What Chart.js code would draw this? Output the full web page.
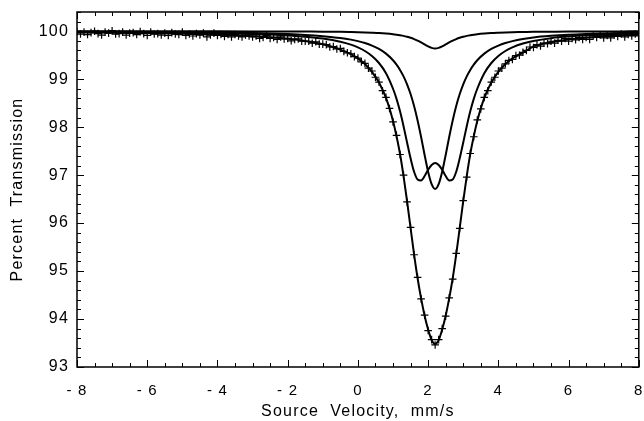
<!DOCTYPE html>
<html>
<head>
<meta charset="utf-8">
<script src="https://cdn.jsdelivr.net/npm/chart.js@4.4.1/dist/chart.umd.min.js"></script>
<style>
  html, body { margin: 0; padding: 0; background: #fff; }
  #wrap { width: 644px; height: 421px; }
</style>
</head>
<body>
<div id="wrap"><canvas id="spectrum"></canvas></div>
<script>
// measured spectrum (channels, mm/s) and percent transmission
const velocity = [
  -8.0, -7.9, -7.8, -7.7, -7.6, -7.5, -7.4, -7.3, -7.2, -7.1,
  -7.0, -6.9, -6.8, -6.7, -6.6, -6.5, -6.4, -6.3, -6.2, -6.1,
  -6.0, -5.9, -5.8, -5.7, -5.6, -5.5, -5.4, -5.3, -5.2, -5.1,
  -5.0, -4.9, -4.8, -4.7, -4.6, -4.5, -4.4, -4.3, -4.2, -4.1,
  -4.0, -3.9, -3.8, -3.7, -3.6, -3.5, -3.4, -3.3, -3.2, -3.1,
  -3.0, -2.9, -2.8, -2.7, -2.6, -2.5, -2.4, -2.3, -2.2, -2.1,
  -2.0, -1.9, -1.8, -1.7, -1.6, -1.5, -1.4, -1.3, -1.2, -1.1,
  -1.0, -0.9, -0.8, -0.7, -0.6, -0.5, -0.4, -0.3, -0.2, -0.1,
  0.0, 0.1, 0.2, 0.3, 0.4, 0.5, 0.6, 0.7, 0.8, 0.9,
  1.0, 1.1, 1.2, 1.3, 1.4, 1.5, 1.6, 1.7, 1.8, 1.9,
  2.0, 2.1, 2.2, 2.3, 2.4, 2.5, 2.6, 2.7, 2.8, 2.9,
  3.0, 3.1, 3.2, 3.3, 3.4, 3.5, 3.6, 3.7, 3.8, 3.9,
  4.0, 4.1, 4.2, 4.3, 4.4, 4.5, 4.6, 4.7, 4.8, 4.9,
  5.0, 5.1, 5.2, 5.3, 5.4, 5.5, 5.6, 5.7, 5.8, 5.9,
  6.0, 6.1, 6.2, 6.3, 6.4, 6.5, 6.6, 6.7, 6.8, 6.9,
  7.0, 7.1, 7.2, 7.3, 7.4, 7.5, 7.6, 7.7, 7.8, 7.9,
  8.0
];
const transmission = [
  99.99, 99.94, 99.98, 99.93, 99.97, 100.00, 99.95, 99.92, 99.98, 99.96,
  100.01, 99.94, 99.95, 99.98, 99.92, 99.96, 99.97, 99.93, 99.99, 99.95,
  99.91, 99.98, 99.94, 99.95, 99.92, 99.96, 99.91, 99.97, 99.94, 99.93,
  99.98, 99.91, 99.94, 99.90, 99.95, 99.92, 99.96, 99.88, 99.92, 99.96,
  99.91, 99.93, 99.89, 99.93, 99.88, 99.93, 99.90, 99.88, 99.92, 99.90,
  99.88, 99.90, 99.85, 99.87, 99.91, 99.85, 99.87, 99.83, 99.88, 99.84,
  99.85, 99.80, 99.83, 99.84, 99.79, 99.79, 99.79, 99.75, 99.78, 99.73,
  99.73, 99.72, 99.67, 99.68, 99.63, 99.64, 99.58, 99.55, 99.53, 99.47,
  99.44, 99.36, 99.33, 99.23, 99.17, 99.04, 98.94, 98.76, 98.62, 98.39,
  98.11, 97.83, 97.43, 97.00, 96.44, 95.91, 95.34, 94.87, 94.42, 94.08,
  93.76, 93.57, 93.46, 93.57, 93.80, 94.06, 94.44, 94.83, 95.37, 95.89,
  96.47, 96.96, 97.45, 97.80, 98.15, 98.38, 98.62, 98.76, 98.94, 99.04,
  99.17, 99.23, 99.32, 99.39, 99.41, 99.49, 99.50, 99.56, 99.60, 99.67,
  99.66, 99.72, 99.69, 99.75, 99.74, 99.79, 99.75, 99.81, 99.79, 99.85,
  99.79, 99.85, 99.82, 99.87, 99.83, 99.87, 99.83, 99.90, 99.87, 99.92,
  99.86, 99.91, 99.86, 99.92, 99.89, 99.94, 99.88, 99.93, 99.90, 99.94,
  99.90
];

// fitted curves
const fitVelocity = [
  -8, -7, -6, -5, -4, -3, -2.5, -2, -1.5, -1,
  -0.5, -0.2, 0, 0.2, 0.4, 0.6, 0.8, 1.0, 1.1, 1.2,
  1.3, 1.4, 1.5, 1.6, 1.7, 1.8, 1.9, 2.0, 2.1, 2.2,
  2.3, 2.4, 2.5, 2.6, 2.7, 2.8, 2.9, 3.0, 3.1, 3.2,
  3.3, 3.4, 3.6, 3.8, 4.0, 4.2, 4.4, 4.7, 5.0, 5.5,
  6.0, 6.5, 7.0, 7.5, 8.0
];
const fitTotal = [
  99.973, 99.967, 99.958, 99.946, 99.927, 99.896, 99.873, 99.841, 99.795, 99.727,
  99.616, 99.52, 99.434, 99.315, 99.152, 98.93, 98.61, 98.13, 97.81, 97.44,
  96.98, 96.46, 95.90, 95.35, 94.85, 94.43, 94.07, 93.78, 93.56, 93.48,
  93.56, 93.78, 94.07, 94.43, 94.85, 95.35, 95.90, 96.46, 96.98, 97.44,
  97.81, 98.13, 98.61, 98.93, 99.152, 99.315, 99.434, 99.552, 99.681, 99.77,
  99.827, 99.865, 99.891, 99.911, 99.926
];
const fitDoublet = [
  99.985, 99.982, 99.977, 99.971, 99.960, 99.943, 99.930, 99.912, 99.886, 99.846,
  99.780, 99.719, 99.662, 99.587, 99.483, 99.337, 99.124, 98.800, 98.590, 98.330,
  98.020, 97.680, 97.350, 97.070, 96.910, 96.890, 96.980, 97.110, 97.210, 97.250,
  97.210, 97.110, 96.980, 96.890, 96.910, 97.070, 97.350, 97.680, 98.020, 98.330,
  98.590, 98.800, 99.124, 99.337, 99.483, 99.587, 99.662, 99.742, 99.796, 99.855,
  99.892, 99.916, 99.933, 99.945, 99.954
];
const fitSinglet = [
  99.990, 99.987, 99.984, 99.979, 99.972, 99.961, 99.952, 99.940, 99.923, 99.897,
  99.859, 99.824, 99.793, 99.753, 99.700, 99.630, 99.532, 99.394, 99.303, 99.193,
  99.058, 98.892, 98.690, 98.440, 98.140, 97.795, 97.420, 97.070, 96.810, 96.710,
  96.810, 97.070, 97.420, 97.795, 98.140, 98.440, 98.690, 98.892, 99.058, 99.193,
  99.303, 99.394, 99.532, 99.630, 99.700, 99.753, 99.793, 99.837, 99.869, 99.903,
  99.927, 99.943, 99.954, 99.962, 99.968
];
const fitWeakSinglet = [
  99.999, 99.999, 99.998, 99.998, 99.997, 99.996, 99.995, 99.994, 99.992, 99.990,
  99.986, 99.982, 99.979, 99.975, 99.969, 99.962, 99.952, 99.938, 99.928, 99.916,
  99.902, 99.884, 99.863, 99.836, 99.803, 99.765, 99.723, 99.682, 99.652, 99.640,
  99.652, 99.682, 99.723, 99.765, 99.803, 99.836, 99.863, 99.884, 99.902, 99.916,
  99.928, 99.938, 99.952, 99.962, 99.969, 99.975, 99.979, 99.983, 99.987, 99.990,
  99.993, 99.994, 99.995, 99.996, 99.997
];

const FONT = '"Liberation Sans", Arial, Helvetica, sans-serif';

function pts(xs, ys) {
  return xs.map((v, i) => ({ x: v, y: ys[i] }));
}

function fitLine(ys) {
  return {
    type: 'line',
    data: pts(fitVelocity, ys),
    borderColor: '#000',
    borderWidth: 2,
    pointRadius: 0,
    fill: false,
    cubicInterpolationMode: 'monotone',
  };
}

// the old plot has loosely spaced lettering
const spacedText = {
  id: 'spacedText',
  beforeLayout(chart) { chart.ctx.letterSpacing = '1.2px'; },
  beforeDraw(chart) { chart.ctx.letterSpacing = '1.2px'; },
};

// frame on all four sides with inward tick marks
const frameTicks = {
  id: 'frameTicks',
  afterDraw(chart) {
    const { ctx, chartArea: a, scales: { x, y } } = chart;
    ctx.save();
    ctx.strokeStyle = '#000';
    ctx.lineWidth = 1.5;
    ctx.strokeRect(a.left, a.top, a.right - a.left, a.bottom - a.top);
    ctx.lineWidth = 1;
    ctx.beginPath();
    for (let i = 0; i <= 32; i++) {
      const px = Math.round(x.getPixelForValue(-8 + i * 0.5)) + 0.5;
      const len = i % 4 === 0 ? 7 : 4;
      ctx.moveTo(px, a.bottom); ctx.lineTo(px, a.bottom - len);
      ctx.moveTo(px, a.top); ctx.lineTo(px, a.top + len);
    }
    for (let i = 0; i <= 37; i++) {
      const py = Math.round(y.getPixelForValue(93 + i * 0.2)) + 0.5;
      const len = i % 5 === 0 ? 7 : 4;
      ctx.moveTo(a.left, py); ctx.lineTo(a.left + len, py);
      ctx.moveTo(a.right, py); ctx.lineTo(a.right - len, py);
    }
    ctx.stroke();
    ctx.restore();
  }
};

new Chart(document.getElementById('spectrum'), {
  type: 'scatter',
  plugins: [spacedText, frameTicks],
  data: {
    datasets: [
      {
        data: pts(velocity, transmission),
        showLine: false,
        pointStyle: 'cross',
        pointRadius: 3.8,
        borderColor: '#000',
        borderWidth: 1.2,
        backgroundColor: '#000',
      },
      fitLine(fitTotal),
      fitLine(fitDoublet),
      fitLine(fitSinglet),
      fitLine(fitWeakSinglet),
    ]
  },
  options: {
    responsive: true,
    maintainAspectRatio: false,
    animation: false,
    devicePixelRatio: 1,
    layout: { padding: { top: 12, right: 1, left: 0, bottom: 0 } },
    plugins: {
      legend: { display: false },
      tooltip: { enabled: false },
    },
    scales: {
      x: {
        type: 'linear',
        min: -8,
        max: 8,
        grid: { display: false, drawTicks: false },
        border: { display: false },
        ticks: {
          stepSize: 2,
          autoSkip: false,
          maxRotation: 0,
          padding: 15,
          color: '#000',
          font: { family: FONT, size: 15 },
          callback: (v) => (v < 0 ? '- ' + Math.abs(v) : String(v)),
        },
        title: {
          display: true,
          text: 'Source  Velocity,  mm/s',
          color: '#000',
          font: { family: FONT, size: 16 },
          padding: { top: 0, bottom: 0 },
        },
        afterFit: (s) => { s.height = 54; s.paddingLeft = 0; s.paddingRight = 0; },
      },
      y: {
        type: 'linear',
        min: 93,
        max: 100.4,
        grid: { display: false, drawTicks: false },
        border: { display: false },
        afterBuildTicks: (s) => { s.ticks = s.ticks.filter((t) => Number.isInteger(t.value)); },
        ticks: {
          stepSize: 1,
          padding: 8,
          color: '#000',
          font: { family: FONT, size: 16 },
        },
        title: {
          display: true,
          text: 'Percent  Transmission',
          color: '#000',
          font: { family: FONT, size: 16 },
          padding: { top: 8, bottom: 0 },
        },
        afterFit: (s) => { s.width = 77; s.paddingTop = 0; s.paddingBottom = 0; },
      }
    }
  },
});
</script>
</body>
</html>
